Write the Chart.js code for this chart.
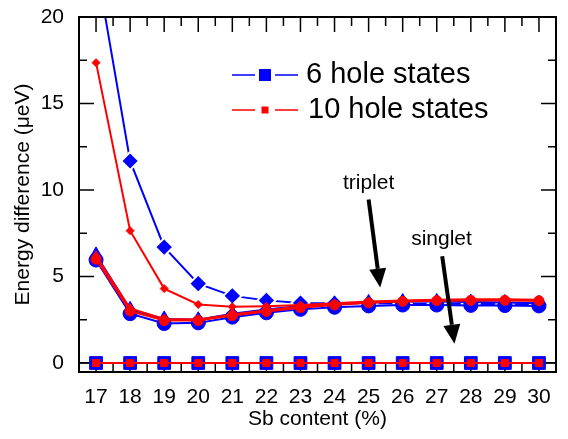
<!DOCTYPE html>
<html>
<head>
<meta charset="utf-8">
<script src="https://cdn.jsdelivr.net/npm/chart.js@4.4.0/dist/chart.umd.min.js"></script>
<style>
  html, body { margin: 0; padding: 0; background: #fff; }
  #wrap { width: 568px; height: 439px; }
</style>
</head>
<body>
<div id="wrap"><canvas id="energy_chart"></canvas></div>
<script>
// Sb content (%) on x
const sbContent = [17, 18, 19, 20, 21, 22, 23, 24, 25, 26, 27, 28, 29, 30];
const xTickValues = [17, 18, 19, 20, 21, 22, 23, 24, 25, 26, 27, 28, 29, 30];
const xMinorValues = [17.5, 18.5, 19.5, 20.5, 21.5, 22.5, 23.5, 24.5, 25.5, 26.5, 27.5, 28.5, 29.5];
const yTickValues = [0, 5, 10, 15, 20];
const yMinorValues = [2.5, 7.5, 12.5, 17.5];

// 6 hole states (blue)
const hole6Diamond = [23.1, 11.68, 6.7, 4.59, 3.88, 3.62, 3.47, 3.45, 3.45, 3.44, 3.42, 3.42, 3.4, 3.38];
const hole6Triangle = [6.25, 3.1, 2.55, 2.5, 2.85, 3.1, 3.3, 3.42, 3.5, 3.55, 3.55, 3.52, 3.5, 3.45];
const hole6Circle = [5.95, 2.85, 2.28, 2.32, 2.65, 2.9, 3.1, 3.22, 3.3, 3.35, 3.35, 3.33, 3.32, 3.3];
const hole6Square = [0, 0, 0, 0, 0, 0, 0, 0, 0, 0, 0, 0, 0, 0];

// 10 hole states (red)
const hole10Diamond = [17.36, 7.65, 4.3, 3.38, 3.25, 3.28, 3.35, 3.45, 3.55, 3.62, 3.66, 3.68, 3.68, 3.65];
const hole10Triangle = [6.2, 3.15, 2.55, 2.52, 2.8, 3.05, 3.27, 3.4, 3.5, 3.58, 3.62, 3.64, 3.64, 3.62];
const hole10Circle = [6.0, 3.0, 2.45, 2.45, 2.74, 2.98, 3.2, 3.35, 3.48, 3.56, 3.6, 3.62, 3.62, 3.6];
const hole10Square = [0, 0, 0, 0, 0, 0, 0, 0, 0, 0, 0, 0, 0, 0];

const legendLabels = ['6 hole states', '10 hole states'];
const noteLabels = ['triplet', 'singlet'];
// label anchor, arrow tail and arrow tip, in data units
const notePlaces = [
    { text: [25.0, 10.08], from: [25.0, 9.45], to: [25.34, 4.36] },
    { text: [27.14, 6.84], from: [27.16, 6.17], to: [27.52, 1.12] }
];

const BLUE = '#0000ff';
const RED = '#ff0000';
const FONT = "'Liberation Sans', Arial, sans-serif";

const makeSet = (label, values, color, style, radius, order, extra) => Object.assign({
    label: label,
    data: values.map((v, i) => ({ x: sbContent[i], y: v })),
    borderColor: color,
    backgroundColor: color,
    pointBackgroundColor: color,
    pointBorderColor: color,
    pointBorderWidth: 1,
    pointStyle: style,
    pointRadius: radius,
    pointHoverRadius: radius,
    borderWidth: 2,
    tension: 0,
    order: order
}, extra || {});

const datasets = [
    makeSet('6 hole states', hole6Square, BLUE, 'rect', 9, 2),
    makeSet('6 hole states', hole6Circle, BLUE, 'circle', 7, 2),
    makeSet('6 hole states', hole6Triangle, BLUE, 'triangle', 8, 2),
    makeSet('6 hole states', hole6Diamond, BLUE, 'rectRot', 9, 2, { pointBorderColor: '#fff', pointBorderWidth: 2 }),
    makeSet('10 hole states', hole10Square, RED, 'rect', 5, 1),
    makeSet('10 hole states', hole10Circle, RED, 'circle', 5, 1),
    makeSet('10 hole states', hole10Triangle, RED, 'triangle', 5, 1),
    makeSet('10 hole states', hole10Diamond, RED, 'rectRot', 4, 1)
];

// inward ticks on all four sides
const frameTicks = {
    id: 'frameTicks',
    beforeDatasetsDraw(chart) {
        const { ctx, chartArea: a, scales: { x, y } } = chart;
        ctx.save();
        ctx.strokeStyle = '#000';
        ctx.lineWidth = 1.5;
        ctx.beginPath();
        const xTick = (v, len) => {
            const px = x.getPixelForValue(v);
            ctx.moveTo(px, a.top); ctx.lineTo(px, a.top + len);
            ctx.moveTo(px, a.bottom); ctx.lineTo(px, a.bottom - len);
        };
        const yTick = (v, len) => {
            const py = y.getPixelForValue(v);
            ctx.moveTo(a.left, py); ctx.lineTo(a.left + len, py);
            ctx.moveTo(a.right, py); ctx.lineTo(a.right - len, py);
        };
        xTickValues.forEach(v => xTick(v, 15));
        xMinorValues.forEach(v => xTick(v, 9));
        yTickValues.forEach(v => yTick(v, 15));
        yMinorValues.forEach(v => yTick(v, 8));
        ctx.stroke();
        ctx.restore();
    },
    afterDatasetsDraw(chart) {
        const { ctx, chartArea: a } = chart;
        ctx.save();
        ctx.strokeStyle = '#000';
        ctx.lineWidth = 2;
        ctx.strokeRect(a.left, a.top, a.right - a.left, a.bottom - a.top);
        ctx.restore();
    }
};

// legend and the triplet / singlet arrows
const extras = {
    id: 'extras',
    afterDraw(chart) {
        const { ctx, chartArea: a, scales: { x, y } } = chart;
        ctx.save();
        const rows = [
            { color: BLUE, size: 12, dy: 58, tx: 227 },
            { color: RED, size: 7, dy: 93, tx: 229 }
        ];
        rows.forEach((r, i) => {
            const ly = a.top + r.dy;
            const lx = a.left + 153;
            ctx.strokeStyle = r.color;
            ctx.lineWidth = 1.5;
            ctx.beginPath();
            ctx.moveTo(lx, ly); ctx.lineTo(lx + 23, ly);
            ctx.moveTo(lx + 43, ly); ctx.lineTo(lx + 66, ly);
            ctx.stroke();
            ctx.fillStyle = r.color;
            ctx.fillRect(lx + 33 - r.size / 2, ly - r.size / 2, r.size, r.size);
            ctx.fillStyle = '#000';
            ctx.font = '29px ' + FONT;
            ctx.textAlign = 'left';
            ctx.textBaseline = 'middle';
            ctx.fillText(legendLabels[i], a.left + r.tx, ly);
        });

        notePlaces.forEach((n, i) => {
            ctx.fillStyle = '#000';
            ctx.font = '21px ' + FONT;
            ctx.textAlign = 'center';
            ctx.textBaseline = 'alphabetic';
            ctx.fillText(noteLabels[i], x.getPixelForValue(n.text[0]), y.getPixelForValue(n.text[1]));
            const x0 = x.getPixelForValue(n.from[0]), y0 = y.getPixelForValue(n.from[1]);
            const x1 = x.getPixelForValue(n.to[0]), y1 = y.getPixelForValue(n.to[1]);
            const ang = Math.atan2(y1 - y0, x1 - x0);
            const headLen = 19, headW = 8.5;
            const bx = x1 - headLen * Math.cos(ang), by = y1 - headLen * Math.sin(ang);
            ctx.strokeStyle = '#000';
            ctx.lineWidth = 4;
            ctx.beginPath();
            ctx.moveTo(x0, y0);
            ctx.lineTo(bx, by);
            ctx.stroke();
            ctx.beginPath();
            ctx.moveTo(x1, y1);
            ctx.lineTo(bx + headW * Math.sin(ang), by - headW * Math.cos(ang));
            ctx.lineTo(bx - headW * Math.sin(ang), by + headW * Math.cos(ang));
            ctx.closePath();
            ctx.fill();
        });
        ctx.restore();
    }
};

const ctx = document.querySelector('#energy_chart');
const chart = new Chart(ctx, {
    type: 'line',
    data: { datasets: datasets },
    options: {
        responsive: true,
        maintainAspectRatio: false,
        animation: false,
        layout: { padding: { left: 0, right: 12, top: 17, bottom: 0 } },
        plugins: { legend: { display: false }, tooltip: { enabled: false } },
        scales: {
            x: {
                type: 'linear',
                min: 16.5,
                max: 30.5,
                afterBuildTicks: (scale) => { scale.ticks = xTickValues.map(v => ({ value: v })); },
                afterFit: (scale) => { scale.height = 67; scale.paddingLeft = 0; scale.paddingRight = 0; },
                grid: { display: false, drawTicks: false },
                border: { display: false },
                ticks: { color: '#000', padding: 13, maxRotation: 0, font: { family: FONT, size: 21 } },
                title: { display: true, text: 'Sb content (%)', color: '#000', padding: { top: 0, bottom: 7 }, font: { family: FONT, size: 21 } }
            },
            y: {
                type: 'linear',
                min: -0.52,
                max: 20,
                afterBuildTicks: (scale) => { scale.ticks = yTickValues.map(v => ({ value: v })); },
                afterFit: (scale) => { scale.width = 79; scale.paddingTop = 0; scale.paddingBottom = 0; },
                grid: {
                    drawTicks: false,
                    lineWidth: 1.5,
                    color: (c) => (c.tick && c.tick.value === 0 ? '#000' : 'rgba(0,0,0,0)')
                },
                border: { display: false },
                ticks: { color: '#000', padding: 15, font: { family: FONT, size: 21 } },
                title: { display: true, text: 'Energy difference (\u03bceV)', color: '#000', padding: { top: 11, bottom: 0 }, font: { family: FONT, size: 21 } }
            }
        }
    },
    plugins: [frameTicks, extras]
});
</script>
</body>
</html>
